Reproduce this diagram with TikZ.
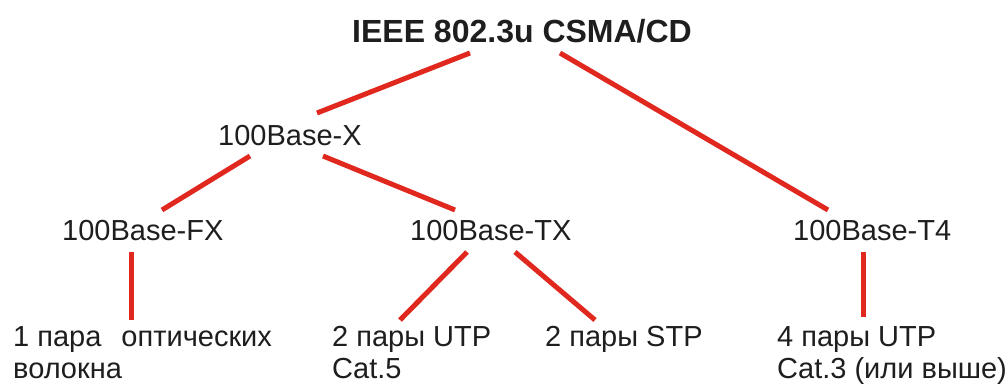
\documentclass[tikz,border=0pt]{standalone}
\usepackage{fontspec}
\setmainfont{Liberation Sans}
\usetikzlibrary{calc}
\definecolor{linkred}{HTML}{E0281E}
\definecolor{txt}{HTML}{1E1E1E}
\tikzset{
  lbl/.style={inner sep=0pt, anchor=base west, text=txt, font=\fontsize{29}{35}\selectfont},
  ttl/.style={inner sep=0pt, anchor=base west, text=txt, font=\fontsize{32}{38}\selectfont\bfseries},
  link/.style={draw=linkred, line width=5pt}
}
\begin{document}
\begin{tikzpicture}[x=1pt,y=-1pt]
\useasboundingbox (0,0) rectangle (1008,385);
% nodes
\node[ttl] (top) at (352,43) {IEEE 802.3u CSMA/CD};
\node[lbl] (bx) at (218,145) {100Base-X};
\node[lbl] (fx) at (62,240) {100Base-FX};
\node[lbl] (tx) at (410,240) {100Base-TX};
\node[lbl] (t4) at (793,240) {100Base-T4};
\node[lbl] (fib) at (13,346) {1 пара\hspace{20pt}оптических};
\node[lbl] (fib2) at (13,378) {волокна};
\node[lbl] (utp) at (332,346) {2 пары UTP};
\node[lbl] (utp2) at (332,378) {Cat.5};
\node[lbl] (stp) at (545,346) {2 пары STP};
\node[lbl] (utp4) at (777,346) {4 пары UTP};
\node[lbl] (utp42) at (777,378) {Cat.3 (или выше)};
% connectors
\draw[link] ($(top.base west)+(118,10)$) -- ($(bx.base west)+(99,-32)$);
\draw[link] ($(top.base west)+(208,10)$) -- ($(t4.base west)+(35,-30)$);
\draw[link] ($(bx.base west)+(32,11)$) -- ($(fx.base west)+(100,-30)$);
\draw[link] ($(bx.base west)+(105,11)$) -- ($(tx.base west)+(45,-30)$);
\draw[link] ($(fx.base west)+(69,12)$) -- ($(fib.base west)+(118,-26)$);
\draw[link] ($(tx.base west)+(57,12)$) -- ($(utp.base west)+(68,-26)$);
\draw[link] ($(tx.base west)+(105,12)$) -- ($(stp.base west)+(50,-26)$);
\draw[link] ($(t4.base west)+(70,12)$) -- ($(utp4.base west)+(86,-29)$);
\end{tikzpicture}
\end{document}
